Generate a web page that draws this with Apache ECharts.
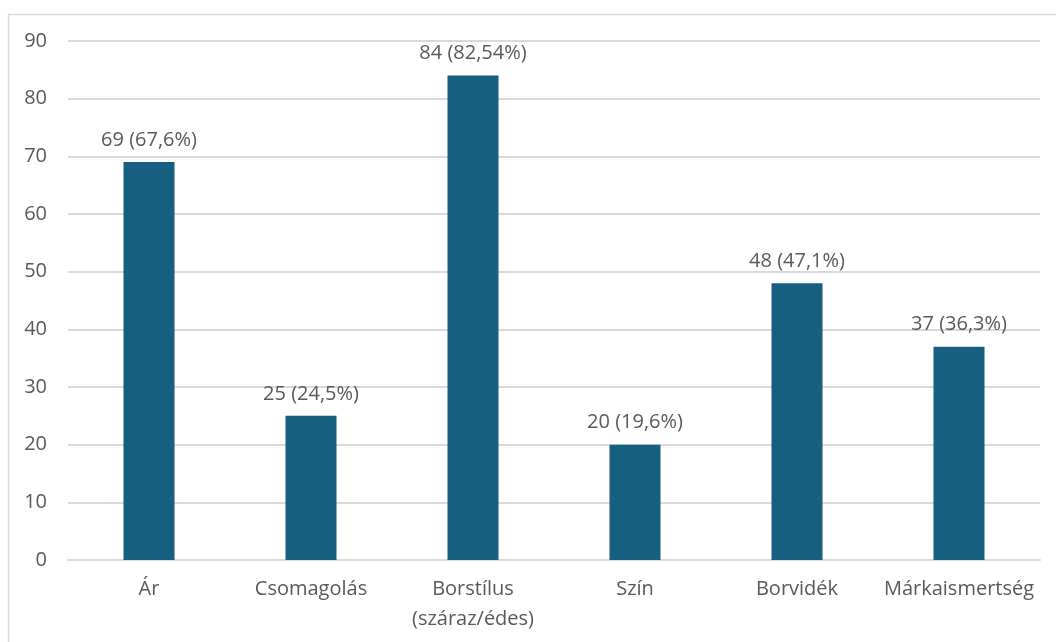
<!DOCTYPE html>
<html>
<head>
<meta charset="utf-8">
<script src="https://cdn.jsdelivr.net/npm/echarts@6/dist/echarts.min.js"></script>
<style>
  html, body { margin: 0; padding: 0; background: #fff; }
  #chart { width: 1056px; height: 642px; }
</style>
</head>
<body>
<div id="chart"></div>
<script>
const categories = ['Ár', 'Csomagolás', 'Borstílus\n(száraz/édes)', 'Szín', 'Borvidék', 'Márkaismertség'];
const counts = [69, 25, 84, 20, 48, 37];
const shares = ['67,6%', '24,5%', '82,54%', '19,6%', '47,1%', '36,3%'];

const textColor = '#595959';
const fontFamily = 'Open Sans, sans-serif';
const fontSize = 20;

const chart = echarts.init(document.getElementById('chart'));
chart.setOption({
  animation: false,
  backgroundColor: '#fff',
  graphic: [{
    type: 'rect',
    shape: { x: 8.5, y: 14.5, width: 1060, height: 640 },
    style: { fill: 'none', stroke: '#d9d9d9', lineWidth: 1.5 },
    silent: true
  }],
  grid: { left: 68, right: 16, top: 41, bottom: 82 },
  xAxis: {
    type: 'category',
    data: categories,
    axisTick: { show: false },
    axisLine: { lineStyle: { color: '#d9d9d9', width: 2 } },
    axisLabel: { color: textColor, fontSize, fontFamily, margin: 14, lineHeight: 30, interval: 0 }
  },
  yAxis: {
    type: 'value',
    min: 0, max: 90, interval: 10,
    axisLabel: { color: textColor, fontSize, fontFamily, margin: 21 },
    splitLine: { lineStyle: { color: '#d9d9d9', width: 2 } },
    axisLine: { show: false }
  },
  series: [{
    type: 'bar',
    data: counts,
    barWidth: '31.5%',
    itemStyle: { color: '#175f80' },
    label: {
      show: true,
      position: 'top',
      distance: 12,
      color: textColor,
      fontSize,
      fontFamily,
      formatter: p => p.value + ' (' + shares[p.dataIndex] + ')'
    }
  }]
});
</script>
</body>
</html>
